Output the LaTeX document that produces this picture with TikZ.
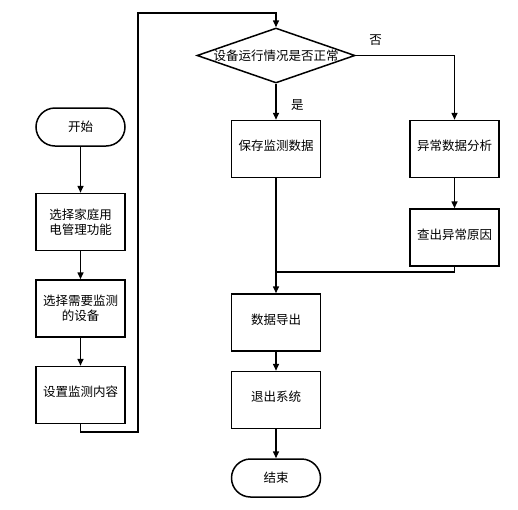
\documentclass[tikz,border=0pt]{standalone}
\usepackage{fontspec}
\setmainfont{Noto Sans CJK SC}
\usetikzlibrary{arrows.meta,positioning,shapes.geometric}

\begin{document}
\begin{tikzpicture}[x=1pt,y=1pt,line width=1.5pt,
    font=\fontsize{12.5pt}{15pt}\selectfont,
    box/.style={draw,minimum width=89pt,minimum height=57pt,align=center},
    onebox/.style={box,text depth=7pt},
    term/.style={draw,rounded corners=19pt,minimum width=89pt,minimum height=38pt},
    decision/.style={draw,diamond,minimum width=158pt,minimum height=55pt,inner sep=0pt},
    pre/.style={{Triangle[length=7pt,width=6pt]}-},
    post/.style={-{Triangle[length=7pt,width=6pt]}}]
    \useasboundingbox (0,0) rectangle (518,-509);
    % left column
    \node[term] (start) at (80.5,-127) {开始};
    \node[box] (func) [below=46pt of start] {选择家庭用\\电管理功能}
    edge [pre] (start);
    \node[box] (dev) [below=28pt of func] {选择需要监测\\的设备}
    edge [pre] (func);
    \node[onebox] (content) [below=28pt of dev] {设置监测内容}
    edge [pre] (dev);
    % right part
    \node[decision] (check) at (276,-55.5) {\makebox[0pt]{设备运行情况是否正常}};
    \node[onebox] (save) [below=36pt of check] {保存监测数据}
    edge [pre] node[right=11pt,pos=0.4] {是} (check);
    \node[onebox] (anal) [right=88pt of save] {异常数据分析};
    \node[onebox] (cause) [below=30pt of anal] {查出异常原因}
    edge [pre] (anal);
    \node[onebox] (export) [below=115pt of save] {数据导出}
    edge [pre] (save);
    \node[onebox] (quit) [below=19pt of export] {退出系统}
    edge [pre] (export);
    \node[term] (end) [below=29pt of quit] {结束}
    edge [pre] (quit);
    % loop and branches
    \coordinate (loopL) at (138,-432);
    \coordinate (loopT) at (138,-13);
    \draw[post] (content.south) |- (loopL) -- (loopT) -| (check.north);
    \draw[post] (check.east) -| node[pos=0.1,above=6pt] {否} (anal.north);
    \coordinate (merge) at (276,-272);
    \draw (cause.south) |- (merge);
\end{tikzpicture}
\end{document}
